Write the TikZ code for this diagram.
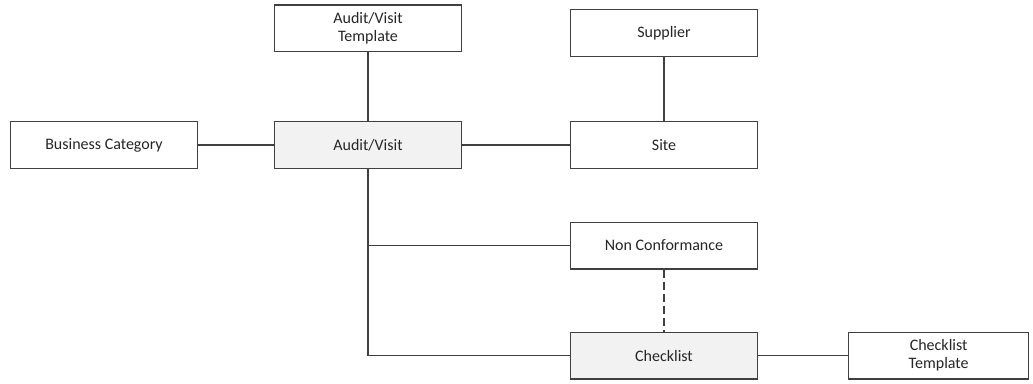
\documentclass[tikz,border=0pt]{standalone}
\usepackage{fontspec}
\setmainfont{Carlito}
\usetikzlibrary{positioning}

\definecolor{linegray}{HTML}{404040}
\definecolor{boxgray}{HTML}{F2F2F2}

\tikzset{
  entity/.style={draw=linegray, line width=1pt, fill=white, minimum width=140pt,
    minimum height=35pt, align=center, font=\fontsize{12}{13.5}\selectfont,
    text=black!85},
  core/.style={entity, fill=boxgray},
  link/.style={draw=linegray, line width=1pt}
}

\begin{document}
\begin{tikzpicture}[x=0.75pt, y=-0.75pt, on grid]
   \useasboundingbox (0,0) rectangle (1033,383);

   % Main row
   \node[core] (audit) at (368,145) {Audit/Visit};
   \node[entity] (auditTpl) [above=87.5pt of audit] {Audit/Visit\\Template};
   \node[entity] (business) [left=198pt of audit] {Business Category};
   \node[entity] (site) [right=222pt of audit] {Site};
   \node[entity] (supplier) [above=84pt of site] {Supplier};

   % Lower part
   \node[entity] (nonconf) [below=75.4pt of site] {Non Conformance};
   \node[core] (checklist) [below=82.5pt of nonconf] {Checklist};
   \node[entity, minimum width=135pt] (checkTpl) [right=206pt of checklist] {Checklist\\Template};

   % Connectors
   \path[link]
    (auditTpl) edge (audit)
    (business) edge (audit)
    (audit) edge (site)
    (supplier) edge (site)
    (checklist) edge (checkTpl);
   \draw[link] (audit.south) |- (checklist.west);
   \draw[link] (audit.south |- nonconf.west) -- (nonconf.west);
   \draw[link, dash pattern=on 6pt off 3pt] (nonconf.south) -- (checklist.north);
\end{tikzpicture}
\end{document}
